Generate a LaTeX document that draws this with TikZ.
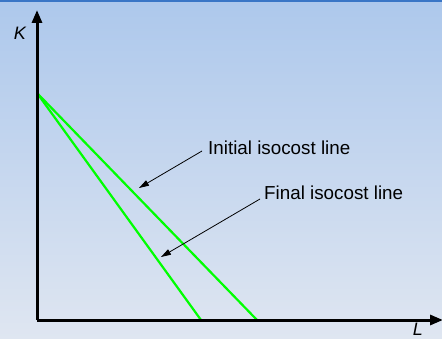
\documentclass[tikz,border=0pt]{standalone}
\usepackage{fontspec}
\setmainfont{Liberation Sans}
\usetikzlibrary{arrows.meta}
\definecolor{bgtop}{HTML}{ADC8EC}
\definecolor{bgbot}{HTML}{DFE6F1}
\definecolor{topline}{HTML}{3A76C6}
\definecolor{iso}{HTML}{00FF00}
\tikzset{
  axis/.style={line width=3pt, -{Triangle[length=13pt,width=10pt]}},
  isoline/.style={line width=2.2pt, iso},
  pointer/.style={line width=0.8pt, -{Triangle[length=10pt,width=6pt]}},
  lbl/.style={font=\fontsize{18.8}{20}\selectfont, anchor=west, inner sep=0pt},
  axlbl/.style={font=\fontsize{18}{20}\selectfont\itshape, inner sep=0pt}
}
\begin{document}
\begin{tikzpicture}[x=1pt,y=-1pt]
\useasboundingbox (0,0) rectangle (442,339);
\shade[top color=bgtop, bottom color=bgbot] (0,0) rectangle (442,339);
\fill[topline] (0,0) rectangle (442,2);
\coordinate (O) at (37,320);
\coordinate (Ytip) at (37,10);
\coordinate (Xtip) at (443,320);
\coordinate (A) at (37,93);
\coordinate (B1) at (201,320);
\coordinate (B2) at (257,320);
\draw[isoline] (A) -- (B1);
\draw[isoline] (A) -- (B2);
\draw[axis] (O) -- (Ytip);
\draw[axis] (O) -- (Xtip);
\node[axlbl] (K) at (20,33) {K};
\node[axlbl, anchor=south] (L) at (418,336) {L};
\node[lbl] (t1) at (208,148) {Initial isocost line};
\node[lbl] (t2) at (264,193) {Final isocost line};
\coordinate (p1) at (139,188);
\coordinate (p2) at (161,257);
\draw[pointer] (t1.west) ++(-6,3) -- (p1);
\draw[pointer] (t2.west) ++(-4,6) -- (p2);
\end{tikzpicture}
\end{document}
